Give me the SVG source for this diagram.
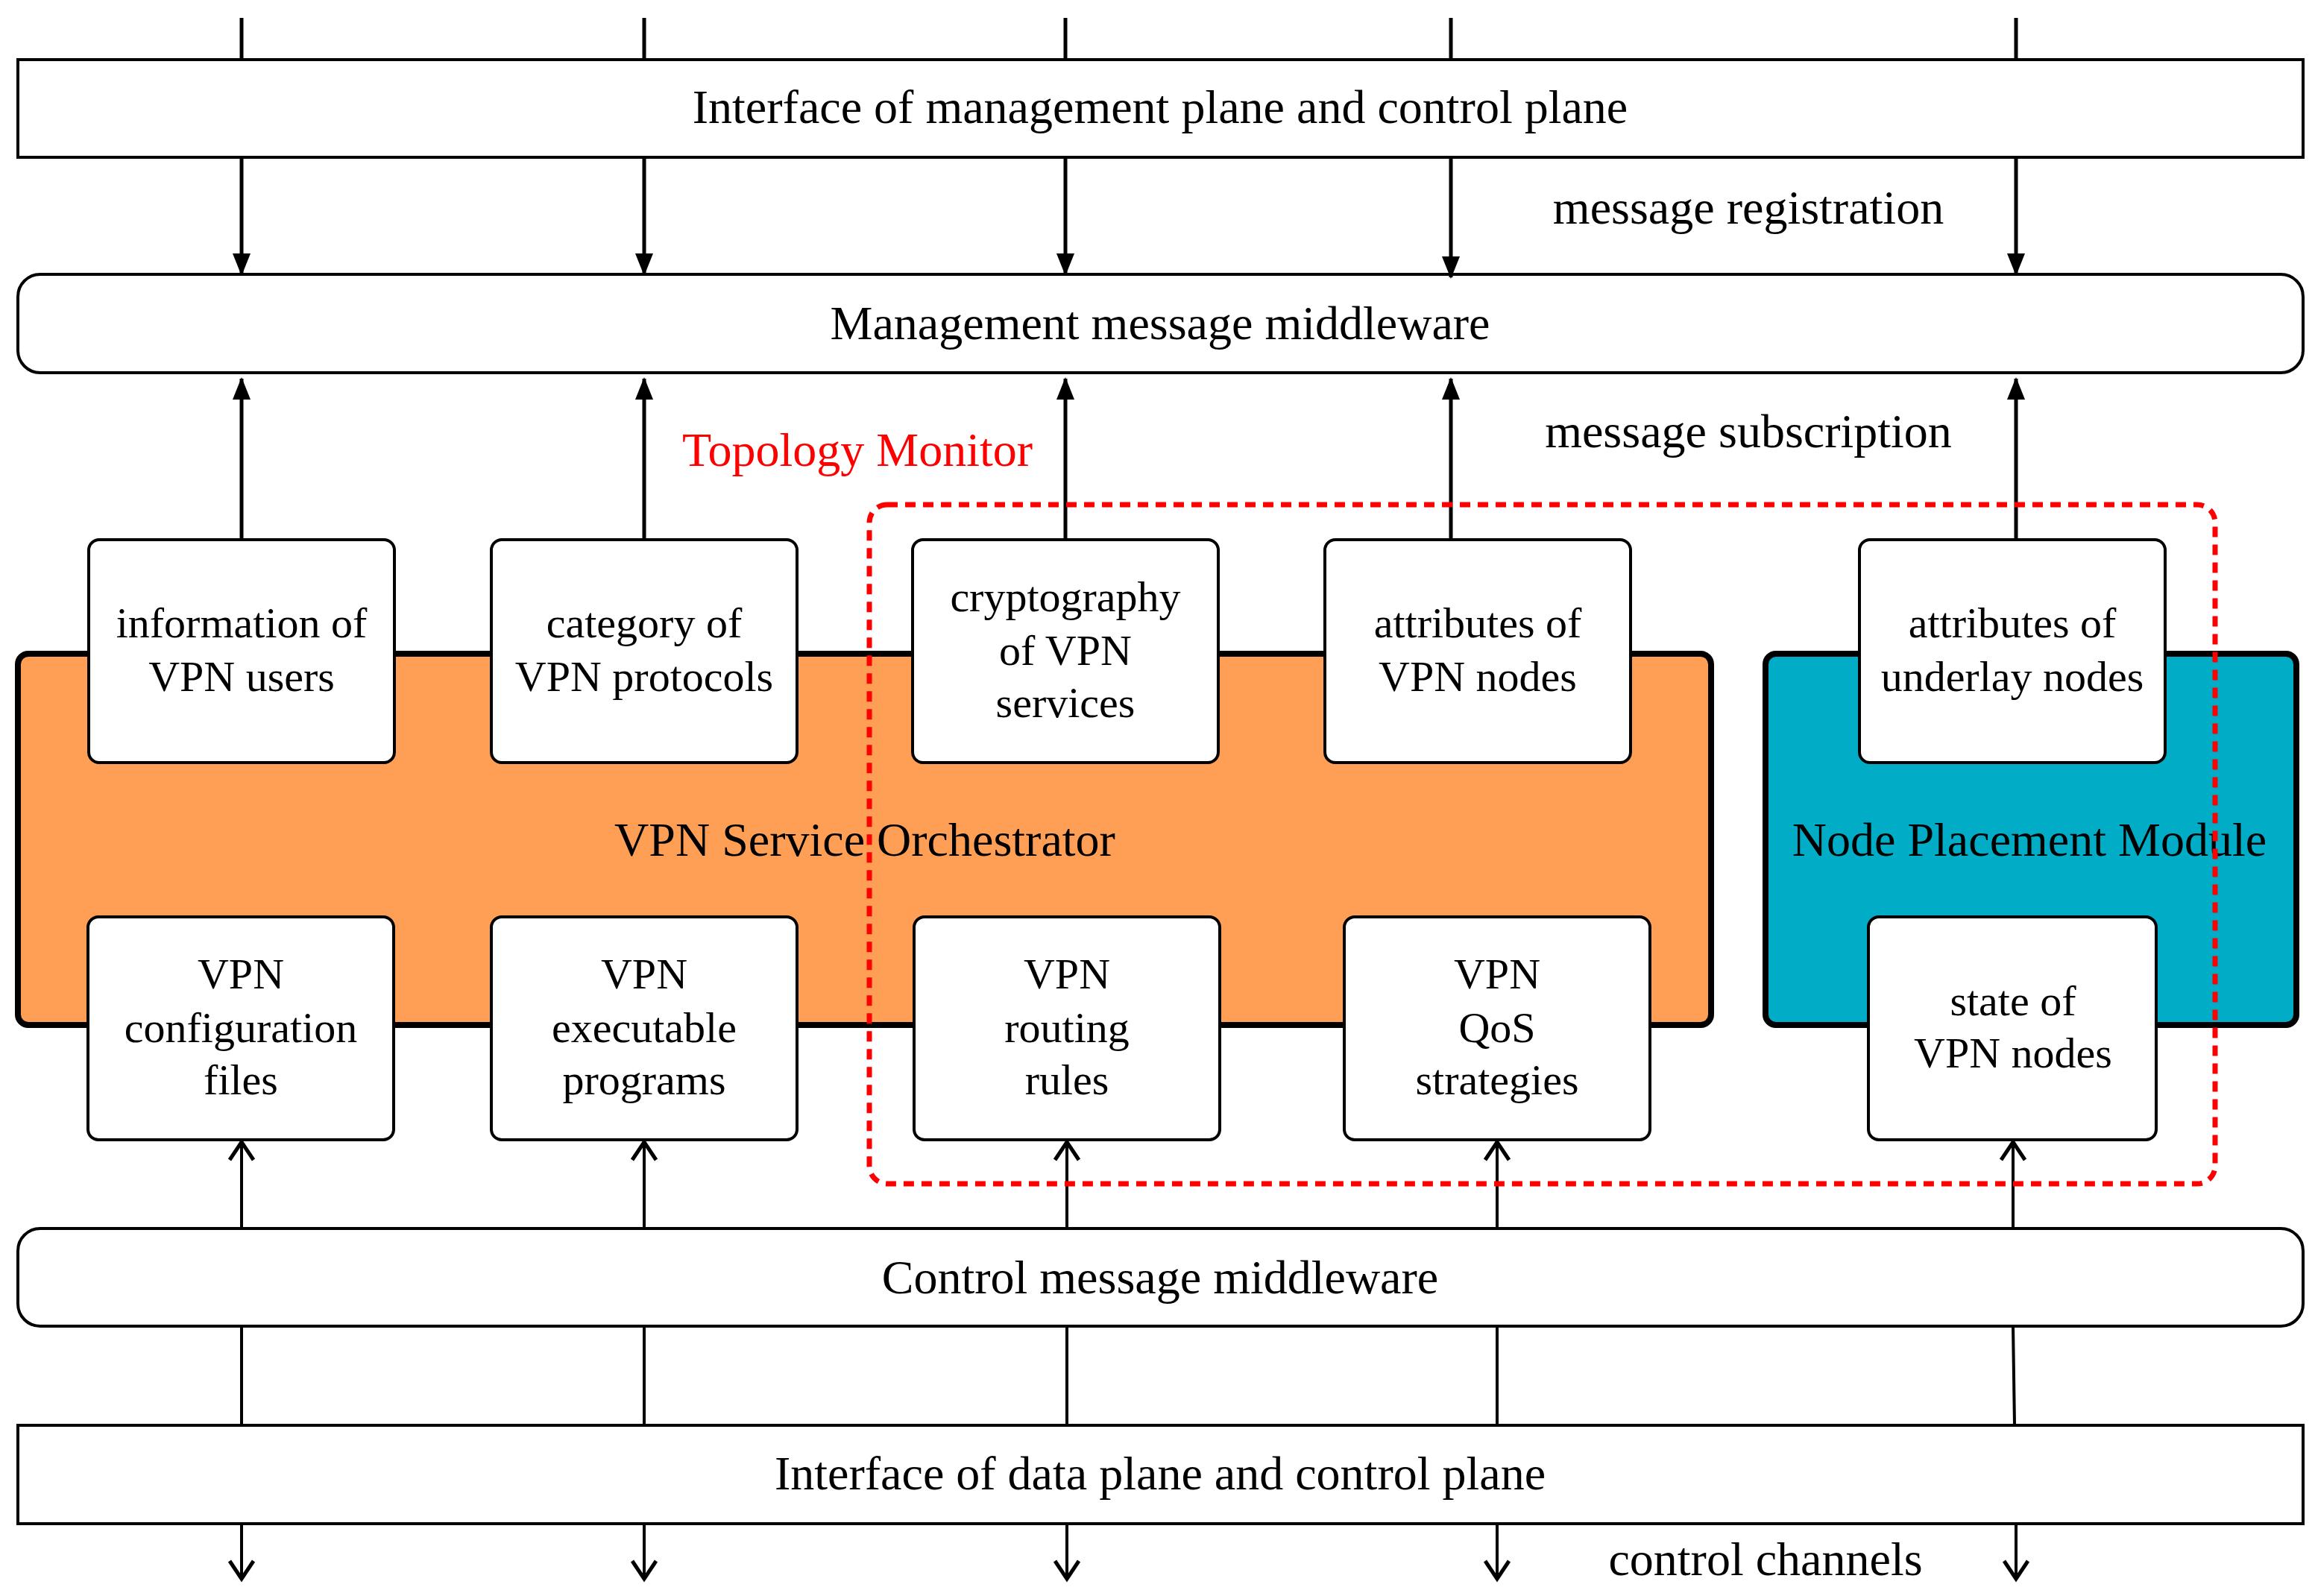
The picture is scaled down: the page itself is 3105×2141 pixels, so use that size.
<svg xmlns="http://www.w3.org/2000/svg" width="3105" height="2141" viewBox="0 0 3105 2141">
<style>
text{font-family:"Liberation Serif","Times New Roman",serif;fill:#000;text-anchor:middle}
.big{font-size:64px}.box{font-size:58px}
.bar{fill:#fff;stroke:#000;stroke-width:4}
.nb{fill:#fff;stroke:#000;stroke-width:4}
.ln line{stroke:#000;stroke-width:5}
.ln .up{marker-end:url(#f)}
.ln .op{marker-end:url(#o);stroke-width:4}
.ln .th{stroke-width:4}
</style>
<defs>
<marker id="f" markerWidth="30" markerHeight="30" refX="28" refY="14" orient="auto" markerUnits="userSpaceOnUse"><path d="M0,2 L30,14 L0,26 z" fill="#000"/></marker>
<marker id="o" markerWidth="36" markerHeight="40" refX="30" refY="20" orient="auto" markerUnits="userSpaceOnUse"><path d="M6,4 L30,20 L6,36" fill="none" stroke="#000" stroke-width="5"/></marker>
</defs>
<g id="bars">
<g id="mgmt-interface"><rect class="bar" x="24" y="80" width="3065" height="131"/><text class="big" x="1556" y="165">Interface of management plane and control plane</text></g>
<g id="mgmt-mw"><rect class="bar" x="24" y="368" width="3065" height="132" rx="30"/><text class="big" x="1556" y="455">Management message middleware</text></g>
<g id="ctrl-mw"><rect class="bar" x="24" y="1648" width="3065" height="131" rx="30"/><text class="big" x="1556" y="1735">Control message middleware</text></g>
<g id="data-interface"><rect class="bar" x="24" y="1912" width="3065" height="132"/><text class="big" x="1556" y="1998">Interface of data plane and control plane</text></g>
</g>
<g id="orchestrator"><rect x="24" y="877" width="2271" height="498" rx="14" fill="#ff9e55" stroke="#000" stroke-width="8"/><text class="big" x="1160" y="1148">VPN Service Orchestrator</text></g>
<g id="placement"><rect x="2368" y="877" width="712" height="498" rx="14" fill="#00acc6" stroke="#000" stroke-width="8"/><text class="big" x="2722" y="1148">Node Placement Module</text></g>
<g id="connectors" class="ln">
<line x1="324" y1="24" x2="324" y2="80"/><line x1="864" y1="24" x2="864" y2="80"/><line x1="1429" y1="24" x2="1429" y2="80"/><line x1="1946" y1="24" x2="1946" y2="80"/><line x1="2704" y1="24" x2="2704" y2="80"/>
<line class="up" x1="324" y1="211" x2="324" y2="368"/><line class="up" x1="864" y1="211" x2="864" y2="368"/><line class="up" x1="1429" y1="211" x2="1429" y2="368"/><line class="up" x1="1946" y1="211" x2="1946" y2="372"/><line class="up" x1="2704" y1="211" x2="2704" y2="368"/>
<line class="up" x1="324" y1="724" x2="324" y2="508"/><line class="up" x1="864" y1="724" x2="864" y2="508"/><line class="up" x1="1429" y1="724" x2="1429" y2="508"/><line class="up" x1="1946" y1="724" x2="1946" y2="508"/><line class="up" x1="2704" y1="724" x2="2704" y2="508"/>
<line class="op" x1="324" y1="1648" x2="324" y2="1532"/><line class="op" x1="864" y1="1648" x2="864" y2="1532"/><line class="op" x1="1431" y1="1648" x2="1431" y2="1532"/><line class="op" x1="2008" y1="1648" x2="2008" y2="1532"/><line class="op" x1="2700" y1="1648" x2="2700" y2="1532"/>
<line class="th" x1="324" y1="1779" x2="324" y2="1912"/><line class="th" x1="864" y1="1779" x2="864" y2="1912"/><line class="th" x1="1431" y1="1779" x2="1431" y2="1912"/><line class="th" x1="2008" y1="1779" x2="2008" y2="1912"/><line class="th" x1="2700" y1="1779" x2="2702" y2="1912"/>
<line class="op" x1="324" y1="2044" x2="324" y2="2118"/><line class="op" x1="864" y1="2044" x2="864" y2="2118"/><line class="op" x1="1431" y1="2044" x2="1431" y2="2118"/><line class="op" x1="2008" y1="2044" x2="2008" y2="2118"/><line class="op" x1="2704" y1="2044" x2="2704" y2="2118"/>
</g>
<g id="n1"><rect class="nb" x="119" y="724" width="410" height="299" rx="14"/><text class="box" x="324" y="855">information of</text><text class="box" x="324" y="927">VPN users</text></g>
<g id="n2"><rect class="nb" x="659" y="724" width="410" height="299" rx="14"/><text class="box" x="864" y="855">category of</text><text class="box" x="864" y="927">VPN protocols</text></g>
<g id="n3"><rect class="nb" x="1224" y="724" width="410" height="299" rx="14"/><text class="box" x="1429" y="820">cryptography</text><text class="box" x="1429" y="892">of VPN</text><text class="box" x="1429" y="962">services</text></g>
<g id="n4"><rect class="nb" x="1777" y="724" width="410" height="299" rx="14"/><text class="box" x="1982" y="855">attributes of</text><text class="box" x="1982" y="927">VPN nodes</text></g>
<g id="n5"><rect class="nb" x="2494" y="724" width="410" height="299" rx="14"/><text class="box" x="2699" y="855">attributes of</text><text class="box" x="2699" y="927">underlay nodes</text></g>
<g id="n6"><rect class="nb" x="118" y="1230" width="410" height="299" rx="14"/><text class="box" x="323" y="1326">VPN</text><text class="box" x="323" y="1398">configuration</text><text class="box" x="323" y="1468">files</text></g>
<g id="n7"><rect class="nb" x="659" y="1230" width="410" height="299" rx="14"/><text class="box" x="864" y="1326">VPN</text><text class="box" x="864" y="1398">executable</text><text class="box" x="864" y="1468">programs</text></g>
<g id="n8"><rect class="nb" x="1226" y="1230" width="410" height="299" rx="14"/><text class="box" x="1431" y="1326">VPN</text><text class="box" x="1431" y="1398">routing</text><text class="box" x="1431" y="1468">rules</text></g>
<g id="n9"><rect class="nb" x="1803" y="1230" width="410" height="299" rx="14"/><text class="box" x="2008" y="1326">VPN</text><text class="box" x="2008" y="1398">QoS</text><text class="box" x="2008" y="1468">strategies</text></g>
<g id="n10"><rect class="nb" x="2506" y="1230" width="386" height="299" rx="14"/><text class="box" x="2700" y="1362">state of</text><text class="box" x="2700" y="1432">VPN nodes</text></g>
<g id="monitor"><rect x="1166" y="677" width="1805" height="911" rx="24" fill="none" stroke="#f00" stroke-width="7" stroke-dasharray="14 10"/><text class="big" x="1150" y="625" style="fill:#f00">Topology Monitor</text></g>
<g id="labels">
<text class="big" x="2345" y="300">message registration</text>
<text class="big" x="2345" y="600">message subscription</text>
<text class="big" x="2368" y="2113">control channels</text>
</g>
</svg>
